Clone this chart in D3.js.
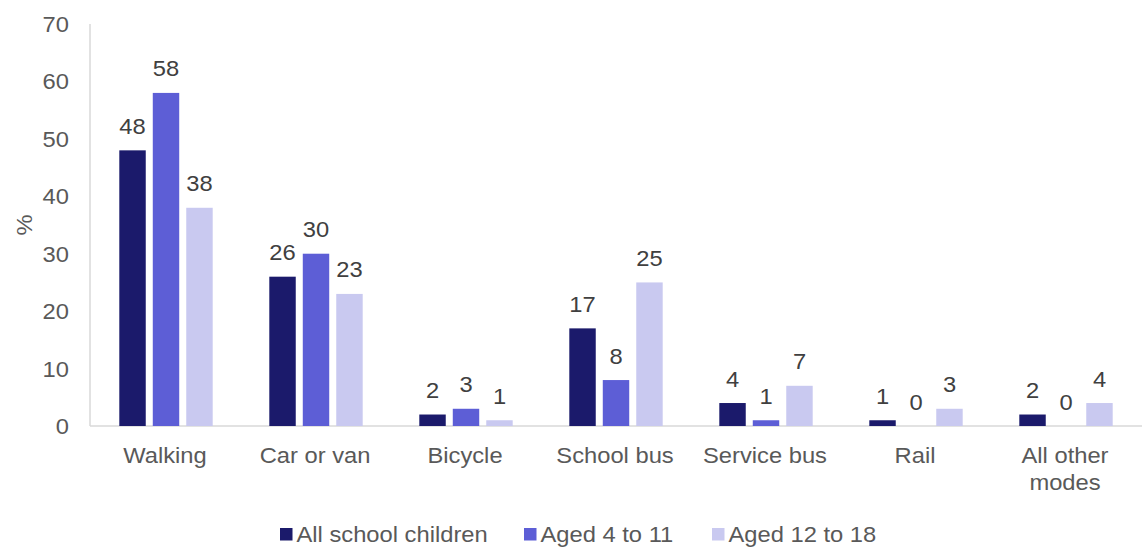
<!DOCTYPE html>
<html><head><meta charset="utf-8">
<script src="https://cdn.jsdelivr.net/npm/d3@7"></script>
<style>body{margin:0;background:#fff}svg{display:block;font-family:"Liberation Sans",Arial,sans-serif}</style>
</head><body><svg id="c" width="1142" height="547"></svg>
<script>
const categories = ["Walking","Car or van","Bicycle","School bus","Service bus","Rail","All other modes"];
const seriesNames = ["All school children","Aged 4 to 11","Aged 12 to 18"];
const allChildren = [48,26,2,17,4,1,2];
const aged4to11 = [58,30,3,8,1,0,0];
const aged12to18 = [38,23,1,25,7,3,4];
const yTicks = [0,10,20,30,40,50,60,70];
const colors = ["#1b1a6b","#5d5ed6","#c9c9f0"];

const series = [allChildren, aged4to11, aged12to18];
const svg = d3.select("#c");
const m = {l:90, r:0, t:24, b:121};
const W = 1142, H = 547;
const FS = 22.5, SX = 1.055;
const x = d3.scaleBand().domain(categories).range([m.l, W-m.r-2]);
const y = d3.scaleLinear().domain([0,70]).range([H-m.b, m.t]);
const x1 = d3.scaleBand().domain(d3.range(3)).range([29.3, 122.7]).paddingInner(0.21);

function txt(g, tx, ty, s, anchor, fill){
  return g.append("text").attr("transform",`translate(${tx},${ty}) scale(${SX},1)`)
    .attr("text-anchor",anchor).attr("font-size",FS).attr("fill",fill).text(s);
}

// axes lines
svg.append("line").attr("x1",m.l).attr("x2",m.l).attr("y1",y(70)).attr("y2",y(0)).attr("stroke","#d9d9d9").attr("stroke-width",1.5);
svg.append("line").attr("x1",m.l).attr("x2",W-m.r).attr("y1",y(0)).attr("y2",y(0)).attr("stroke","#d9d9d9").attr("stroke-width",1.5);

// y ticks
const ya = svg.append("g");
yTicks.forEach(t=>{
  txt(ya, 69, y(t)+8, t, "end", "#595959");
});

svg.append("text").attr("transform",`translate(26,${y(35)}) rotate(-90) scale(${SX},1)`).attr("text-anchor","middle").attr("dominant-baseline","middle").attr("font-size",FS).attr("fill","#595959").text("%");

// bars
categories.forEach((c,i)=>{
  series.forEach((s,j)=>{
    const v = s[i];
    const bx = x(c)+x1(j);
    if (v>0) svg.append("rect").attr("x",bx).attr("y",y(v)).attr("width",x1.bandwidth()).attr("height",y(0)-y(v)).attr("fill",colors[j]);
    txt(svg, bx+x1.bandwidth()/2, y(v)-16.5, v, "middle", "#404040");
  });
});

// category labels
const xa = svg.append("g");
categories.forEach(c=>{
  const cx = x(c)+x.bandwidth()/2;
  const words = c==="All other modes" ? ["All other","modes"] : [c];
  words.forEach((w,k)=>{
    txt(xa, cx, 462.5+k*27, w, "middle", "#595959");
  });
});

// legend
const legX = [280,524,712];
seriesNames.forEach((n,j)=>{
  svg.append("rect").attr("x",legX[j]).attr("y",528).attr("width",12.5).attr("height",12.5).attr("fill",colors[j]);
  txt(svg, legX[j]+16.5, 541.5, n, "start", "#595959");
});
</script></body></html>
